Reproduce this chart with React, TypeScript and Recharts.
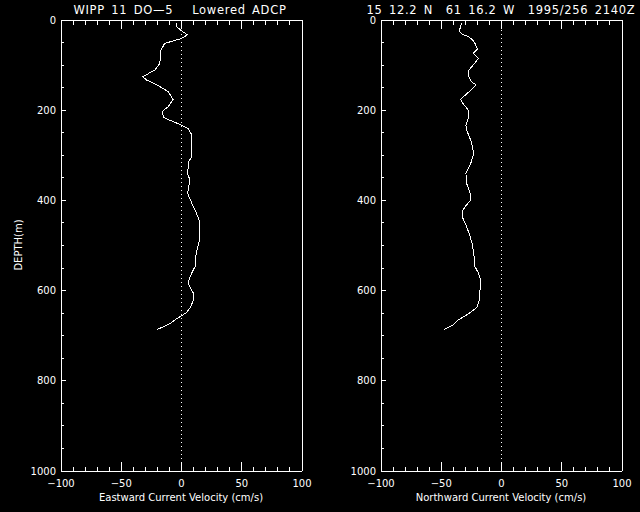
import { LineChart, Line, XAxis, YAxis, ReferenceLine } from "recharts";

// depth (m) and velocity (cm/s)
const eastDepth = [
  6, 15, 24, 33, 41, 52, 67, 96, 111, 118, 126, 133, 146, 159, 176, 192, 203,
  216, 223, 233, 242, 255, 303, 314, 340, 355, 384, 406, 429, 447, 488, 503,
  521, 543, 558, 573, 584, 595, 606, 621, 639, 649, 656, 664, 673, 680, 686,
];
const eastVel = [
  -4, -4, 0, 5, 0, -14, -17, -18, -22, -27, -32, -29, -19, -11, -7, -11, -16,
  -15, -9, 0, 6, 8.5, 8.5, 6, 5, 7, 5, 8.5, 12.5, 15, 15, 13.5, 12, 12, 9,
  6.5, 5.5, 7.5, 10, 10, 7, 4, 0, -5, -9.5, -15, -20,
];
const northDepth = [
  6, 15, 24, 31, 37, 44, 52, 65, 74, 85, 100, 111, 126, 137, 144, 155, 164,
  176, 185, 200, 214, 233, 244, 270, 296, 318, 340, 362, 384, 399, 410, 421,
  440, 458, 480, 495, 517, 547, 562, 580, 602, 621, 637, 647, 654, 662, 667,
  676, 681, 686,
];
const northVel = [
  -33, -34, -35, -33, -27.5, -24, -22, -20, -23.5, -19, -23.5, -27, -27, -25,
  -21, -25, -29, -34, -32, -27.5, -27, -29.5, -29, -25, -23, -25.5, -29.5,
  -29, -26, -25.5, -29, -32, -32, -29, -26, -24.5, -23, -22, -19, -17, -18,
  -18.5, -20.5, -25, -29, -34, -37, -40, -44, -47.5,
];

const velTicks = [
  -100, -90, -80, -70, -60, -50, -40, -30, -20, -10, 0, 10, 20, 30, 40, 50,
  60, 70, 80, 90, 100,
];
const velLabels = [-100, -50, 0, 50, 100];
const depthTicks = [
  0, 50, 100, 150, 200, 250, 300, 350, 400, 450, 500, 550, 600, 650, 700, 750,
  800, 850, 900, 950, 1000,
];
const depthLabels = [0, 200, 400, 600, 800, 1000];

const titles = ["WIPP 11 DO\u20145   Lowered ADCP", "15 12.2 N  61 16.2 W  1995/256 2140Z"];
const xTitles = ["Eastward Current Velocity (cm/s)", "Northward Current Velocity (cm/s)"];

const font = "'DejaVu Sans', sans-serif";

function BottomTick(props: any) {
  const { x, y, payload } = props;
  const major = velLabels.includes(payload.value);
  return (
    <g>
      <line x1={x} x2={x} y1={y} y2={y - (major ? 9 : 4.5)} stroke="#fff" />
      {major && (
        <text x={x} y={y + 16} fill="#fff" fontSize={10} fontFamily={font} textAnchor="middle">
          {payload.value < 0 ? "\u2212" + Math.abs(payload.value) : payload.value}
        </text>
      )}
    </g>
  );
}

function TopTick(props: any) {
  const { x, y, payload } = props;
  const major = velLabels.includes(payload.value);
  return <line x1={x} x2={x} y1={y} y2={y + (major ? 9 : 4.5)} stroke="#fff" />;
}

function LeftTick(props: any) {
  const { x, y, payload } = props;
  const major = depthLabels.includes(payload.value);
  return (
    <g>
      <line x1={x} x2={x + (major ? 5 : 2.5)} y1={y} y2={y} stroke="#fff" />
      {major && (
        <text x={x - 5} y={y + 3.5} fill="#fff" fontSize={10} fontFamily={font} textAnchor="end">
          {payload.value}
        </text>
      )}
    </g>
  );
}

function RightTick(props: any) {
  const { x, y, payload } = props;
  const major = depthLabels.includes(payload.value);
  return <line x1={x} x2={x - (major ? 5 : 2.5)} y1={y} y2={y} stroke="#fff" />;
}

function Profile({ depth, vel }: { depth: number[]; vel: number[] }) {
  const data = depth.map((d, i) => ({ depth: d, v: vel[i] }));
  return (
    <LineChart width={320} height={512} data={data} margin={{ top: 0, right: 0, bottom: 0, left: 0 }}>
      <XAxis
        dataKey="v"
        type="number"
        domain={[-100, 100]}
        ticks={velTicks}
        interval={0}
        height={41}
        tickSize={0}
        tickMargin={0}
        tick={BottomTick}
        axisLine={{ stroke: "#fff" }}
      />
      <XAxis
        xAxisId="top"
        orientation="top"
        dataKey="v"
        type="number"
        domain={[-100, 100]}
        ticks={velTicks}
        interval={0}
        height={20}
        tickSize={0}
        tickMargin={0}
        tick={TopTick}
        axisLine={{ stroke: "#fff" }}
      />
      <YAxis
        type="number"
        domain={[0, 1000]}
        reversed
        ticks={depthTicks}
        interval={0}
        width={61}
        tickSize={0}
        tickMargin={0}
        tick={LeftTick}
        axisLine={{ stroke: "#fff" }}
      />
      <YAxis
        yAxisId="right"
        orientation="right"
        type="number"
        domain={[0, 1000]}
        reversed
        ticks={depthTicks}
        interval={0}
        width={18}
        tickSize={0}
        tickMargin={0}
        tick={RightTick}
        axisLine={{ stroke: "#fff" }}
      />
      <ReferenceLine x={0} stroke="#fff" strokeDasharray="1 3" />
      <Line
        dataKey="depth"
        type="linear"
        stroke="#fff"
        strokeWidth={1}
        dot={false}
        isAnimationActive={false}
      />
    </LineChart>
  );
}

export default function App() {
  const titleStyle = { whiteSpace: "pre" as const, letterSpacing: 0.7, wordSpacing: 2 };
  return (
    <div style={{ position: "absolute", left: 0, top: 0, width: 640, height: 512, background: "#000" }}>
      <style>{"svg line, svg path { shape-rendering: crispEdges; }"}</style>
      <div style={{ position: "absolute", left: 0, top: 0 }}>
        <Profile depth={eastDepth} vel={eastVel} />
      </div>
      <div style={{ position: "absolute", left: 320, top: 0 }}>
        <Profile depth={northDepth} vel={northVel} />
      </div>
      <svg width={640} height={512} style={{ position: "absolute", left: 0, top: 0, pointerEvents: "none" }}>
        <text x={180} y={13.5} fill="#fff" fontSize={11.5} fontFamily={font} textAnchor="middle" style={titleStyle}>
          {titles[0]}
        </text>
        <text x={501} y={13.5} fill="#fff" fontSize={11.5} fontFamily={font} textAnchor="middle" style={titleStyle}>
          {titles[1]}
        </text>
        <text x={181} y={501} fill="#fff" fontSize={10} fontFamily={font} textAnchor="middle">
          {xTitles[0]}
        </text>
        <text x={501} y={501} fill="#fff" fontSize={10} fontFamily={font} textAnchor="middle">
          {xTitles[1]}
        </text>
        <text
          x={22}
          y={245}
          fill="#fff"
          fontSize={10}
          fontFamily={font}
          textAnchor="middle"
          transform="rotate(-90 22 245)"
        >
          DEPTH(m)
        </text>
      </svg>
    </div>
  );
}
